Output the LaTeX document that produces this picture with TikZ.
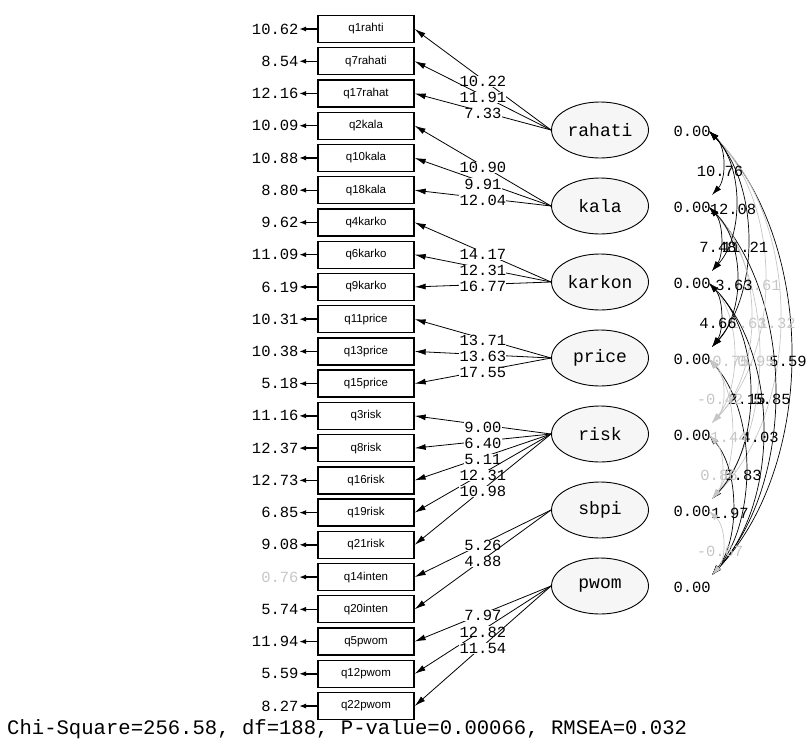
\documentclass[tikz,border=0pt]{standalone}
\usepackage{fontspec}
\setmainfont{Liberation Serif}
\newfontfamily\monof{Liberation Mono}
\newfontfamily\sansf{Liberation Sans}
\usetikzlibrary{arrows.meta,shapes.geometric}
\begin{document}
\begin{tikzpicture}[x=1pt,y=-1pt,
  obs/.style={draw, line width=1.3pt, minimum width=96pt, minimum height=27pt, inner sep=0pt, font=\sansf\fontsize{11.5}{11.5}\selectfont},
  lat/.style={ellipse, draw, line width=0.9pt, fill=gray!7, minimum width=97pt, minimum height=56pt, inner sep=0pt, font=\monof\fontsize{18}{18}\selectfont},
  num/.style={font=\monof\fontsize{15.5}{15.5}\selectfont, inner sep=0.3pt},
  lbl/.style={num, fill=white},
  errarr/.style={line width=1.4pt, -{Latex[length=7pt,width=5pt]}},
  load/.style={line width=0.8pt, -{Latex[length=11pt,width=6pt]}},
  cov/.style={line width=0.7pt, {Latex[length=10pt,width=6pt]}-{Latex[length=10pt,width=6pt]}}
]
\useasboundingbox (0,0) rectangle (806,744);

% observed variables and error terms
\foreach \lab/\err/\col [count=\j from 0] in {
  q1rahti/10.62/black, q7rahati/8.54/black, q17rahat/12.16/black,
  q2kala/10.09/black, q10kala/10.88/black, q18kala/8.80/black,
  q4karko/9.62/black, q6karko/11.09/black, q9karko/6.19/black,
  q11price/10.31/black, q13price/10.38/black, q15price/5.18/black,
  q3risk/11.16/black, q8risk/12.37/black, q16risk/12.73/black,
  q19risk/6.85/black, q21risk/9.08/black, q14inten/0.76/gray!45,
  q20inten/5.74/black, q5pwom/11.94/black, q12pwom/5.59/black,
  q22pwom/8.27/black} {
  \pgfmathsetmacro\yy{29+32.24*\j}
  \node[obs] (b\j) at (366,\yy) {\lab};
  \node[num, anchor=east, text=\col] (e\j) at (299,\yy) {\err};
  \draw[errarr] (b\j.west) -- (e\j.east);
}

% latent variables
\foreach \n [count=\i from 0] in {rahati,kala,karkon,price,risk,sbpi,pwom} {
  \pgfmathsetmacro\yc{130+76*\i}
  \node[lat] (L\i) at (600,\yc) {\n};
  \node[num, anchor=west] (v\i) at (673,\yc+1) {0.00};
  \coordinate (ct\i) at (709,\yc+1);
  \coordinate (cb\i) at (712,\yc-11);
}

% loadings
\foreach \i/\k/\v in {
  0/0/10.22, 0/1/11.91, 0/2/7.33,
  1/3/10.90, 1/4/9.91, 1/5/12.04,
  2/6/14.17, 2/7/12.31, 2/8/16.77,
  3/9/13.71, 3/10/13.63, 3/11/17.55,
  4/12/9.00, 4/13/6.40, 4/14/5.11, 4/15/12.31, 4/16/10.98,
  5/17/5.26, 5/18/4.88,
  6/19/7.97, 6/20/12.82, 6/21/11.54} {
  \draw[load] (L\i.west) -- node[lbl, yshift=-2pt]{\v} (b\k.east);
}

% covariances
\foreach \i/\j/\v/\col/\lx in {
  0/6/5.59/black/788,
  0/5/1.32/gray!45/777, 1/6/5.85/black/772,
  0/4/1.61/gray!45/762, 1/5/0.95/gray!45/756, 2/6/4.03/black/760,
  0/3/11.21/black/745, 1/4/1.63/gray!45/748, 2/5/2.15/black/747, 3/6/5.83/black/743,
  0/2/12.08/black/733, 1/3/3.63/black/734, 2/4/0.75/gray!45/731, 3/5/1.44/gray!45/729, 4/6/1.97/black/730,
  0/1/10.76/black/720, 1/2/7.48/black/718, 2/3/4.66/black/718, 3/4/-0.42/gray!45/720, 4/5/0.86/gray!45/719, 5/6/-0.67/gray!45/720} {
  \pgfmathsetmacro\ya{130+76*\i+1}
  \pgfmathsetmacro\yb{130+76*\j-11}
  \pgfmathsetmacro\cx{709+4/3*(\lx-707)}
  \pgfmathsetmacro\ca{\ya+0.25*(\yb-\ya)}
  \pgfmathsetmacro\cb{\yb-0.25*(\yb-\ya)}
  \pgfmathsetmacro\ly{130+38*(\i+\j)+3}
  \node[num, text=\col] at (\lx,\ly) {\v};
  \draw[cov, draw=\col] (ct\i) .. controls (\cx,\ca) and (\cx,\cb) .. (cb\j);
}

% fit statistics
\node[anchor=west, inner sep=0pt, font=\monof\fontsize{20.6}{20.6}\selectfont] (fit) at (7,729) {Chi-Square=256.58, df=188, P-value=0.00066, RMSEA=0.032};
\end{tikzpicture}
\end{document}
